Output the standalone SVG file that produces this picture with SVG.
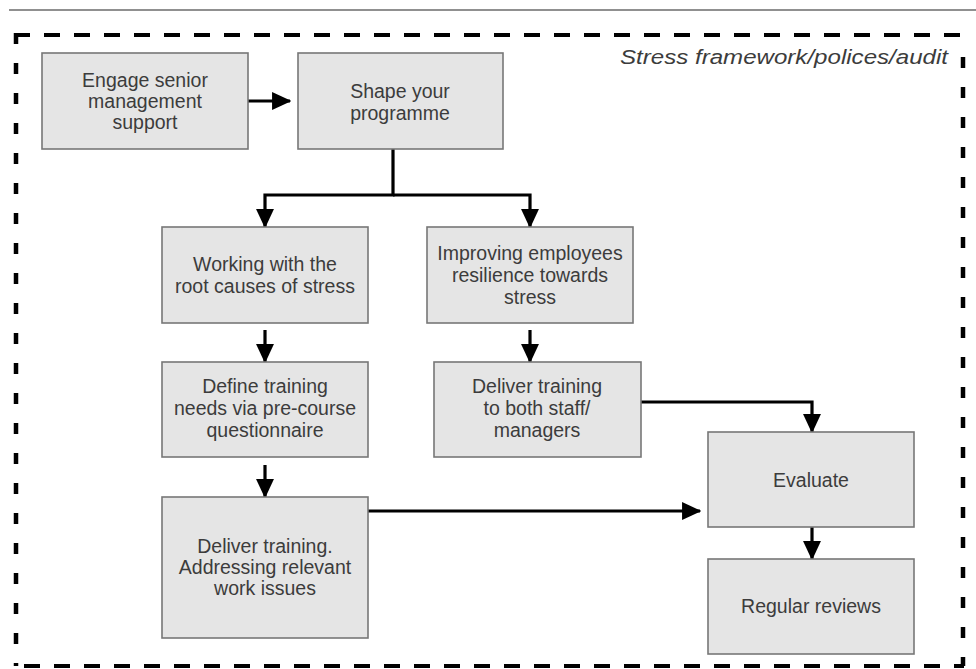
<svg xmlns="http://www.w3.org/2000/svg" width="976" height="669" viewBox="0 0 976 669">
<style>
.box{fill:#e5e5e5;stroke:#777;stroke-width:1.6}
.t{font-family:"Liberation Sans",Arial,sans-serif;font-size:19.5px;fill:#3c3c3c;text-anchor:middle}
.c{fill:none;stroke:#000;stroke-width:3.2}
.dh{stroke:#000;stroke-width:4;stroke-dasharray:16 14;fill:none}
.dv{stroke:#000;stroke-width:4.5;stroke-dasharray:11 19;fill:none}
</style>
<defs>
<marker id="ah" markerWidth="6" markerHeight="5.6" refX="5.6" refY="2.8" orient="auto" markerUnits="strokeWidth">
<path d="M0,0 L6,2.8 L0,5.6 Z" fill="#000"/>
</marker>
</defs>
<rect width="976" height="669" fill="#fff"/>
<line x1="9" y1="10" x2="976" y2="10" stroke="#222" stroke-width="1.2"/>
<g id="frame">
<line class="dh" x1="14" y1="35" x2="964" y2="35"/>
<line class="dh" x1="24" y1="666" x2="964" y2="666"/>
<line class="dv" x1="16" y1="33" x2="16" y2="666"/>
<line class="dv" x1="963" y1="57" x2="963" y2="666"/>
<text x="620" y="64" textLength="328" lengthAdjust="spacingAndGlyphs" style="font-family:'Liberation Sans',Arial,sans-serif;font-size:20px;font-style:italic;fill:#3c3c3c">Stress framework/polices/audit</text>
</g>
<g id="connectors">
<line class="c" x1="248" y1="101" x2="290" y2="101" marker-end="url(#ah)"/>
<polyline class="c" points="393,149 393,195 265,195 265,227" marker-end="url(#ah)"/>
<polyline class="c" points="393,195 530,195 530,227" marker-end="url(#ah)"/>
<line class="c" x1="265" y1="330" x2="265" y2="362" marker-end="url(#ah)"/>
<line class="c" x1="530" y1="330" x2="530" y2="362" marker-end="url(#ah)"/>
<line class="c" x1="265" y1="465" x2="265" y2="497" marker-end="url(#ah)"/>
<line class="c" x1="368" y1="511" x2="700" y2="511" marker-end="url(#ah)"/>
<polyline class="c" points="641,402 812,402 812,432" marker-end="url(#ah)"/>
<line class="c" x1="812" y1="527" x2="812" y2="559" marker-end="url(#ah)"/>
</g>
<g id="engage">
<rect class="box" x="42" y="53" width="206" height="96"/>
<text class="t" x="145" y="87">Engage senior</text>
<text class="t" x="145" y="108">management</text>
<text class="t" x="145" y="129">support</text>
</g>
<g id="shape">
<rect class="box" x="298" y="53" width="205" height="96"/>
<text class="t" x="400" y="98">Shape your</text>
<text class="t" x="400" y="120">programme</text>
</g>
<g id="working">
<rect class="box" x="162" y="227" width="206" height="96"/>
<text class="t" x="265" y="271">Working with the</text>
<text class="t" x="265" y="293">root causes of stress</text>
</g>
<g id="improving">
<rect class="box" x="427" y="227" width="206" height="96"/>
<text class="t" x="530" y="260">Improving employees</text>
<text class="t" x="530" y="282">resilience towards</text>
<text class="t" x="530" y="304">stress</text>
</g>
<g id="define">
<rect class="box" x="162" y="362" width="206" height="95"/>
<text class="t" x="265" y="393">Define training</text>
<text class="t" x="265" y="415">needs via pre-course</text>
<text class="t" x="265" y="437">questionnaire</text>
</g>
<g id="deliver2">
<rect class="box" x="434" y="362" width="207" height="95"/>
<text class="t" x="537" y="393">Deliver training</text>
<text class="t" x="537" y="415">to both staff/</text>
<text class="t" x="537" y="437">managers</text>
</g>
<g id="deliver1">
<rect class="box" x="162" y="497" width="206" height="141"/>
<text class="t" x="265" y="553">Deliver training.</text>
<text class="t" x="265" y="574">Addressing relevant</text>
<text class="t" x="265" y="595">work issues</text>
</g>
<g id="evaluate">
<rect class="box" x="708" y="432" width="206" height="95"/>
<text class="t" x="811" y="487">Evaluate</text>
</g>
<g id="reviews">
<rect class="box" x="708" y="559" width="206" height="95"/>
<text class="t" x="811" y="613">Regular reviews</text>
</g>
</svg>
